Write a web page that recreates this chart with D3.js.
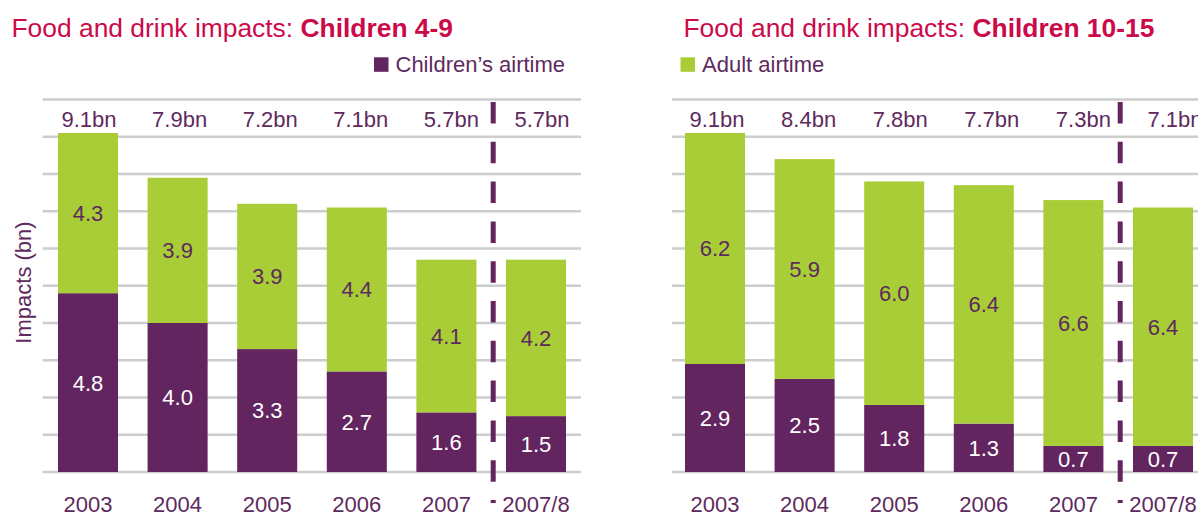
<!DOCTYPE html>
<html>
<head>
<meta charset="utf-8">
<script src="https://cdn.jsdelivr.net/npm/d3@7"></script>
<style>
  body { margin: 0; background: #fff; }
  svg { display: block; font-family: "Liberation Sans", Arial, sans-serif; }
</style>
</head>
<body>
<svg width="1198" height="513"></svg>
<script>
const years = ["2003", "2004", "2005", "2006", "2007", "2007/8"];

// Children 4-9
const young_children = [4.8, 4.0, 3.3, 2.7, 1.6, 1.5];
const young_adult = [4.3, 3.9, 3.9, 4.4, 4.1, 4.2];
const young_totals = ["9.1bn", "7.9bn", "7.2bn", "7.1bn", "5.7bn", "5.7bn"];

// Children 10-15
const older_children = [2.9, 2.5, 1.8, 1.3, 0.7, 0.7];
const older_adult = [6.2, 5.9, 6.0, 6.4, 6.6, 6.4];
const older_totals = ["9.1bn", "8.4bn", "7.8bn", "7.7bn", "7.3bn", "7.1bn"];

const purple = "#62255f";
const green = "#a8cd37";
const text_purple = "#5e2a5e";
const title_red = "#cc0a4a";
const grid_color = "#cdcdcd";

const svg = d3.select("svg");

const y = d3.scaleLinear().domain([0, 10]).range([472, 99.5]);

function draw_panel(p) {
    const g = svg.append("g");
    const x = d3.scaleBand().domain(years)
        .range([p.left, p.left + 537.6])
        .paddingInner(0.33).paddingOuter(0.165);
    const bw = x.bandwidth();

    // title
    const t = g.append("text").attr("x", p.titleX).attr("y", 36.5)
        .attr("fill", title_red).style("font-size", "26.4px");
    t.append("tspan").text("Food and drink impacts: ");
    t.append("tspan").attr("font-weight", "bold").text(p.title);

    // legend
    g.append("rect").attr("x", p.legendX).attr("y", 57.3)
        .attr("width", 14.5).attr("height", 14.5).attr("fill", p.legendColor);
    g.append("text").attr("x", p.legendX + 21.5).attr("y", 71.7)
        .attr("fill", text_purple).style("font-size", "22px").text(p.legendText);

    // gridlines
    g.append("g").selectAll("line").data(y.ticks(10)).join("line")
        .attr("x1", p.gridX1).attr("x2", p.gridX2)
        .attr("y1", d => y(d)).attr("y2", d => y(d))
        .attr("stroke", grid_color).attr("stroke-width", 2.5);

    const rows = years.map((yr, i) => ({ year: yr, child: p.child[i], adult: p.adult[i], total: p.totals[i] }));
    const stacked = d3.stack().keys(["child", "adult"])(rows);
    const colors = { child: purple, adult: green };

    g.append("g").selectAll("g").data(stacked).join("g")
        .attr("fill", d => colors[d.key])
        .selectAll("rect").data(d => d).join("rect")
        .attr("x", d => x(d.data.year))
        .attr("y", d => y(d[1]))
        .attr("width", bw)
        .attr("height", d => y(d[0]) - y(d[1]));

    // segment labels
    g.append("g").selectAll("g").data(stacked).join("g")
        .attr("fill", d => d.key == "child" ? "#ffffff" : text_purple)
        .selectAll("text").data(d => d).join("text")
        .attr("x", d => x(d.data.year) + bw / 2)
        .attr("y", d => (y(d[0]) + y(d[1])) / 2)
        .attr("dy", "0.36em")
        .attr("text-anchor", "middle")
        .style("font-size", "22px")
        .text(d => (d[1] - d[0]).toFixed(1));

    // totals row
    g.append("g").selectAll("text").data(rows).join("text")
        .attr("x", (d, i) => x(d.year) + bw / 2 + p.totalShift * (i + 1) / 6)
        .attr("y", 126.5)
        .attr("text-anchor", "middle")
        .attr("fill", text_purple).style("font-size", "22px")
        .text(d => d.total);

    // year labels
    g.append("g").selectAll("text").data(years).join("text")
        .attr("x", d => x(d) + bw / 2)
        .attr("y", 511.5)
        .attr("text-anchor", "middle")
        .attr("fill", text_purple).style("font-size", "22px")
        .text(d => d);

    // divider between 2007 and 2007/8
    const dx = (x("2007") + bw + x("2007/8")) / 2 + 2;
    g.append("line")
        .attr("x1", dx).attr("x2", dx).attr("y1", 102).attr("y2", 503)
        .attr("stroke", purple).attr("stroke-width", 5)
        .attr("stroke-dasharray", "21.5,18.3");

    if (p.yTitle) {
        g.append("text")
            .attr("transform", "translate(31,282.5) rotate(-90)")
            .attr("text-anchor", "middle")
            .attr("fill", text_purple).style("font-size", "22px")
            .text(p.yTitle);
    }
}

draw_panel({
    left: 43.2, gridX1: 42.7, gridX2: 581,
    titleX: 11.5, title: "Children 4-9",
    legendX: 374, legendColor: purple, legendText: "Children\u2019s airtime",
    child: young_children, adult: young_adult, totals: young_totals,
    totalShift: 6, yTitle: "Impacts (bn)"
});

draw_panel({
    left: 670.2, gridX1: 672, gridX2: 1210,
    titleX: 683.5, title: "Children 10-15",
    legendX: 680.5, legendColor: green, legendText: "Adult airtime",
    child: older_children, adult: older_adult, totals: older_totals,
    totalShift: 12, yTitle: null
});
</script>
</body>
</html>
